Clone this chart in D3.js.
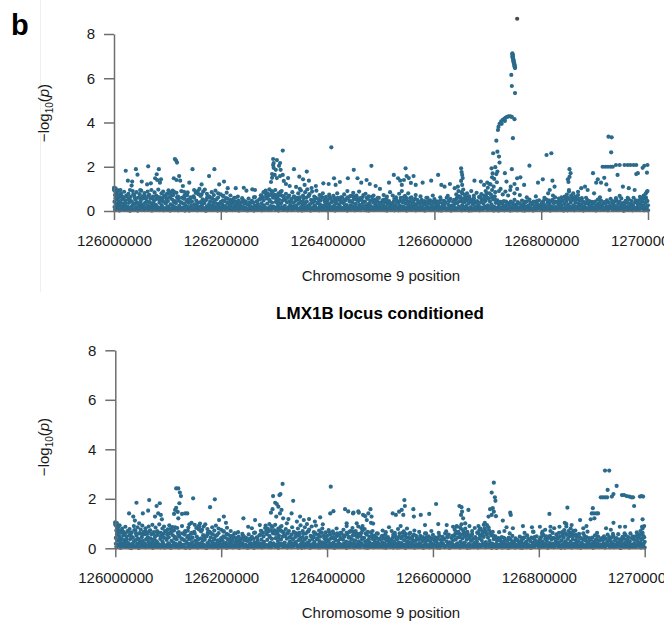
<!DOCTYPE html>
<html>
<head>
<meta charset="utf-8">
<script src="https://cdn.jsdelivr.net/npm/d3@7"></script>
<style>
  body { margin: 0; background: #fff; }
  svg { display: block; font-family: "Liberation Sans", Arial, Helvetica, sans-serif; }
</style>
</head>
<body>
<svg id="chart" width="664" height="624"></svg>
<script>
// Region shown on both panels (bp); SNP positions below are kb offsets from regionStart
const regionStart = 126000000;
const regionEnd = 127000000;
const xTicks = [126000000, 126200000, 126400000, 126600000, 126800000, 127000000];
const yTicks = [0, 2, 4, 6, 8];
const xTitle = "Chromosome 9 position";
const condTitle = "LMX1B locus conditioned";

// Dense low band near zero, [kb, -log10 p] (can't be told apart by eye between runs, so shared)
const bandSnps = [
  [0,.95],[1,.42],[1,.18],[2,.72],[3,.08],[4,.55],[5,.31],[6,.88],[7,.14],[8,.46],[9,.62],[10,.25],[11,.05],[12,.38],[13,.71],[14,.19],[15,.52],[16,.11],[17,.33],[18,.6],[19,.07],
  [20,.29],[21,.48],[22,.12],[24,.66],[25,.21],[26,.04],[28,.37],[29,.55],[31,.16],[32,.43],[34,.09],[35,.27],[36,.74],[38,.33],[39,.06],
  [40,.51],[41,.18],[43,.39],[44,.02],[46,.24],[47,.61],[49,.13],[50,.45],[52,.3],[53,.07],[55,.57],[56,.2],[58,.36],
  [60,.1],[61,.44],[63,.26],[64,.68],[66,.15],[67,.4],[69,.05],[70,.32],[72,.59],[73,.19],[75,.47],[76,.08],[78,.28],[79,.53],
  [80,.22],[82,.63],[83,.11],[85,.38],[86,.04],[88,.5],[89,.27],[91,.16],[92,.42],[94,.7],[95,.09],[97,.34],[98,.56],
  [100,.2],[101,.45],[103,.13],[104,.78],[106,.3],[107,.06],[109,.52],[110,.24],[112,.41],[113,.85],[115,.17],[116,.36],[118,.62],[119,.1],
  [121,.48],[122,.23],[124,.07],[125,.39],[127,.6],[128,.14],[130,.33],[131,.55],[133,.02],[134,.27],[136,.44],[137,.71],[139,.18],
  [140,.37],[142,.09],[143,.58],[145,.25],[146,.43],[148,.12],[149,.66],[151,.3],[152,.05],[154,.47],[155,.2],[157,.38],[158,.76],
  [160,.15],[162,.4],[163,.06],[165,.29],[166,.53],[168,.11],[169,.35],[171,.02],[172,.48],[174,.21],[175,.64],[177,.08],[178,.31],
  [180,.44],[181,.13],[183,.26],[184,.57],[186,.04],[187,.36],[189,.19],[190,.5],[192,.1],[193,.32],[195,.61],[196,.23],[198,.07],
  [200,.41],[201,.16],[203,.3],[204,.68],[206,.09],[207,.45],[209,.22],[210,.03],[212,.37],[213,.55],[215,.14],[216,.28],[218,.49],
  [220,.12],[221,.34],[223,.05],[224,.43],[226,.25],[227,.6],[229,.1],[230,.31],[232,.18],[233,.47],[235,.07],[236,.27],[238,.39],
  [240,.2],[241,.52],[243,.08],[244,.33],[246,.15],[247,.42],[249,.03],[250,.29],[252,.56],[253,.11],[255,.36],[256,.21],[258,.46],
  [260,.06],[261,.38],[263,.24],[264,.63],[266,.13],[267,.44],[269,.3],[270,.05],[272,.52],[273,.19],[275,.71],[276,.35],[278,.09],
  [280,.48],[281,.26],[283,.82],[284,.12],[286,.57],[287,.34],[289,.68],[290,.04],[292,.45],[293,.22],[295,.9],[296,.38],[298,.6],
  [300,.15],[301,.73],[303,.41],[304,.08],[306,.64],[307,.29],[309,.52],[310,.18],[312,.86],[313,.35],[315,.1],[316,.47],[318,.66],
  [320,.23],[321,.5],[323,.07],[324,.39],[326,.62],[327,.16],[329,.44],[330,.28],[332,.04],[333,.55],[335,.2],[336,.37],[338,.12],
  [340,.46],[341,.25],[343,.6],[344,.09],[346,.33],[347,.51],[349,.14],[350,.4],[352,.02],[353,.27],[355,.58],[356,.19],[358,.35],
  [360,.08],[361,.43],[363,.22],[364,.67],[366,.13],[367,.31],[369,.5],[370,.05],[372,.38],[373,.17],[375,.45],[376,.26],[378,.6],
  [380,.11],[381,.36],[383,.54],[384,.03],[386,.29],[387,.47],[389,.15],[390,.62],[392,.24],[393,.08],[395,.41],[396,.19],[398,.33],
  [400,.5],[401,.1],[403,.27],[404,.65],[406,.16],[407,.39],[409,.06],[410,.44],[412,.23],[413,.58],[415,.12],[416,.34],[418,.49],
  [420,.07],[421,.3],[423,.52],[424,.18],[426,.41],[427,.62],[429,.09],[430,.35],[432,.2],[433,.47],[435,.04],[436,.27],[438,.56],
  [440,.14],[441,.43],[443,.25],[444,.69],[446,.1],[447,.37],[449,.53],[450,.21],[452,.05],[453,.32],[455,.6],[456,.17],[458,.45],
  [460,.28],[461,.08],[463,.5],[464,.19],[466,.36],[467,.72],[469,.12],[470,.42],[472,.26],[473,.03],[475,.55],[476,.31],[478,.15],
  [480,.47],[481,.22],[483,.64],[484,.09],[486,.38],[487,.18],[489,.51],[490,.3],[492,.06],[493,.43],[495,.24],[496,.59],[498,.13],
  [500,.36],[501,.11],[503,.48],[504,.25],[506,.04],[507,.4],[509,.2],[510,.57],[512,.32],[513,.09],[515,.45],[516,.16],[518,.28],
  [520,.05],[521,.34],[523,.19],[524,.42],[526,.1],[527,.27],[529,.5],[530,.14],[532,.37],[533,.03],[535,.24],[536,.46],[538,.12],
  [540,.4],[541,.21],[543,.63],[544,.08],[546,.33],[547,.52],[549,.17],[550,.44],[552,.28],[553,.06],[555,.58],[556,.23],[558,.39],
  [560,.1],[561,.47],[563,.26],[564,.55],[566,.04],[567,.31],[569,.16],[570,.41],[572,.07],[573,.35],[575,.2],[576,.5],[578,.13],
  [580,.29],[581,.45],[583,.09],[584,.37],[586,.22],[587,.6],[589,.12],[590,.33],[592,.48],[593,.05],[595,.26],[596,.41],[598,.18],
  [600,.54],[601,.11],[603,.3],[604,.44],[606,.07],[607,.25],[609,.38],[610,.15],[612,.5],[613,.02],[615,.34],[616,.21],[618,.46],
  [620,.13],[621,.39],[623,.6],[624,.08],[626,.28],[627,.47],[629,.17],[630,.55],[632,.24],[633,.04],[635,.42],[636,.19],[638,.32],
  [640,.5],[641,.1],[643,.36],[644,.66],[646,.2],[647,.44],[649,.06],[650,.58],[652,.27],[653,.79],[655,.14],[656,.4],[658,.62],
  [660,.23],[661,.48],[663,.09],[664,.35],[666,.57],[667,.16],[669,.42],[670,.03],[672,.3],[673,.51],[675,.12],[676,.38],[678,.21],
  [680,.45],[681,.07],[683,.27],[684,.62],[686,.15],[687,.4],[689,.53],[690,.1],[692,.33],[693,.7],[695,.2],[696,.46],[698,.81],
  [700,.25],[701,.58],[703,.12],[704,.43],[706,.74],[707,.3],[709,.06],[710,.52],[712,.19],[713,.66],[715,.37],[716,.09],[718,.48],
  [720,.02],[721,.29],[723,.14],[724,.41],[726,.07],[727,.33],[729,.2],[730,.45],[732,.1],[733,.26],[735,.05],[736,.38],[738,.16],
  [740,.3],[741,.08],[743,.42],[744,.18],[746,.04],[747,.35],[749,.22],[750,.5],[752,.11],[753,.28],[755,.03],[756,.4],[758,.15],
  [760,.33],[761,.06],[763,.24],[764,.47],[766,.12],[767,.3],[769,.02],[770,.38],[772,.19],[773,.44],[775,.09],[776,.26],[778,.52],
  [780,.14],[781,.36],[783,.05],[784,.29],[786,.43],[787,.1],[789,.22],[790,.4],[792,.07],[793,.31],[795,.17],[796,.48],[798,.25],
  [800,.04],[801,.34],[803,.2],[804,.45],[806,.11],[807,.27],[809,.53],[810,.08],[812,.38],[813,.16],[815,.3],[816,.05],[818,.42],
  [820,.21],[821,.5],[823,.1],[824,.35],[826,.62],[827,.18],[829,.41],[830,.06],[832,.28],[833,.56],[835,.13],[836,.39],[838,.24],
  [840,.47],[841,.09],[843,.32],[844,.65],[846,.17],[847,.43],[849,.03],[850,.28],[852,.54],[853,.2],[855,.38],[856,.11],[858,.49],
  [860,.26],[861,.6],[863,.08],[864,.37],[866,.19],[867,.51],[869,.12],[870,.33],[872,.46],[873,.04],[875,.29],[876,.58],[878,.15],
  [880,.4],[881,.22],[883,.07],[884,.35],[886,.5],[887,.13],[889,.3],[890,.45],[892,.05],[893,.26],[895,.41],[896,.1],[898,.34],
  [900,.18],[901,.43],[903,.03],[904,.27],[906,.52],[907,.12],[909,.36],[910,.21],[912,.47],[913,.08],[915,.31],[916,.15],[918,.4],
  [920,.06],[921,.33],[923,.48],[924,.17],[926,.39],[927,.09],[929,.26],[930,.55],[932,.13],[933,.37],[935,.04],[936,.29],[938,.44],
  [940,.2],[941,.5],[943,.11],[944,.32],[946,.06],[947,.41],[949,.24],[950,.57],[952,.15],[953,.36],[955,.02],[956,.28],[958,.46],
  [960,.1],[961,.38],[963,.22],[964,.53],[966,.07],[967,.31],[969,.45],[970,.16],[972,.27],[973,.6],[975,.12],[976,.4],[978,.05],
  [980,.34],[981,.19],[983,.48],[984,.08],[986,.3],[987,.55],[989,.14],[990,.42],[992,.25],[993,.03],[995,.37],[996,.62],[998,.18],[999,.45],[1000,.26]
];

// Very low SNPs that make the solid floor of the band (shared)
const floorSnps = [
  [2,.05],[6,.15],[10,.02],[14,.1],[18,.2],[23,.06],[27,.14],[30,.01],[33,.18],[37,.08],[42,.12],[45,.03],[48,.2],[51,.09],[54,.16],[57,.04],
  [62,.13],[65,.07],[68,.19],[71,.02],[74,.11],[77,.17],[81,.05],[84,.14],[87,.09],[90,.21],[93,.03],[96,.12],[99,.07],[102,.16],[105,.02],
  [108,.1],[111,.19],[114,.06],[117,.13],[120,.03],[123,.18],[126,.08],[129,.14],[132,.04],[135,.2],[138,.1],[141,.02],[144,.15],[147,.07],
  [150,.12],[153,.18],[156,.03],[159,.1],[161,.2],[164,.05],[167,.14],[170,.09],[173,.02],[176,.17],[179,.11],[182,.04],[185,.19],[188,.08],
  [191,.13],[194,.02],[197,.16],[199,.1],[202,.06],[205,.18],[208,.12],[211,.03],[214,.15],[217,.08],[219,.2],[222,.04],[225,.13],[228,.09],
  [231,.17],[234,.02],[237,.11],[239,.19],[242,.06],[245,.14],[248,.1],[251,.03],[254,.17],[257,.08],[259,.13],[262,.02],[265,.19],[268,.07],
  [271,.15],[274,.11],[277,.03],[279,.2],[282,.06],[285,.13],[288,.09],[291,.17],[294,.04],[297,.12],[299,.2],[302,.07],[305,.15],[308,.02],
  [311,.11],[314,.18],[317,.06],[319,.14],[322,.09],[325,.03],[328,.17],[331,.12],[334,.05],[337,.19],[339,.1],[342,.15],[345,.03],[348,.08],
  [351,.18],[354,.12],[357,.04],[359,.16],[362,.09],[365,.2],[368,.02],[371,.13],[374,.07],[377,.17],[379,.05],[382,.11],[385,.19],[388,.04],
  [391,.14],[394,.08],[397,.2],[399,.03],[402,.12],[405,.06],[408,.17],[411,.1],[414,.02],[417,.15],[419,.08],[422,.19],[425,.05],[428,.13],
  [431,.09],[434,.17],[437,.02],[439,.11],[442,.06],[445,.15],[448,.19],[451,.03],[454,.12],[457,.08],[459,.16],[462,.04],[465,.2],[468,.1],
  [471,.06],[474,.14],[477,.02],[479,.18],[482,.07],[485,.12],[488,.04],[491,.16],[494,.09],[497,.2],[499,.05],[502,.13],[505,.08],[508,.17],
  [511,.02],[514,.11],[517,.19],[519,.06],[522,.14],[525,.03],[528,.09],[531,.17],[534,.11],[537,.04],[539,.19],[542,.07],[545,.13],[548,.02],
  [551,.16],[554,.1],[557,.05],[559,.18],[562,.12],[565,.03],[568,.15],[571,.08],[574,.19],[577,.06],[579,.11],[582,.02],[585,.16],[588,.09],
  [591,.13],[594,.04],[597,.18],[599,.07],[602,.14],[605,.1],[608,.03],[611,.17],[614,.06],[617,.12],[619,.19],[622,.04],[625,.1],[628,.15],
  [631,.02],[634,.18],[637,.08],[639,.13],[642,.05],[645,.16],[648,.11],[651,.03],[654,.19],[657,.07],[659,.14],[662,.1],[665,.02],[668,.17],
  [671,.08],[674,.13],[677,.05],[679,.2],[682,.11],[685,.03],[688,.15],[691,.07],[694,.18],[697,.12],[699,.04],[702,.16],[705,.09],[708,.19],
  [711,.02],[714,.13],[717,.07],[719,.17],[722,.05],[725,.11],[728,.15],[731,.03],[734,.19],[737,.09],[739,.13],[742,.02],[745,.17],[748,.07],
  [751,.12],[754,.18],[757,.05],[759,.1],[762,.15],[765,.03],[768,.19],[771,.08],[774,.12],[777,.04],[779,.16],[782,.1],[785,.02],[788,.17],
  [791,.06],[794,.13],[797,.19],[799,.09],[802,.03],[805,.15],[808,.07],[811,.18],[814,.12],[817,.02],[819,.14],[822,.08],[825,.17],[828,.04],
  [831,.11],[834,.19],[837,.06],[839,.13],[842,.02],[845,.16],[848,.1],[851,.05],[854,.18],[857,.08],[859,.13],[862,.03],[865,.15],[868,.09],
  [871,.19],[874,.06],[877,.12],[879,.02],[882,.17],[885,.1],[888,.05],[891,.14],[894,.19],[897,.07],[899,.12],[902,.03],[905,.16],[908,.09],
  [911,.18],[914,.05],[917,.13],[919,.08],[922,.2],[925,.03],[928,.12],[931,.16],[934,.07],[937,.19],[939,.1],[942,.04],[945,.14],[948,.09],
  [951,.18],[954,.02],[957,.12],[959,.16],[962,.06],[965,.19],[968,.1],[971,.03],[974,.14],[977,.08],[979,.17],[982,.05],[985,.12],[988,.19],
  [991,.07],[994,.14],[997,.1],[1000,.03]
];

// Upper part of the band (shared)
const upperBandSnps = [
  [3,.58],[9,.4],[15,.66],[21,.35],[27,.52],[33,.44],[39,.6],[45,.33],[51,.55],[57,.68],[62,.42],[68,.57],[74,.36],[80,.64],[86,.48],
  [91,.58],[97,.4],[103,.62],[108,.7],[114,.45],[120,.55],[126,.38],[132,.66],[138,.5],[144,.42],[150,.6],[156,.35],[162,.68],[168,.47],
  [174,.56],[180,.62],[186,.4],[192,.53],[198,.34],[204,.48],[210,.58],[216,.36],[222,.5],[228,.41],[234,.33],[244,.45],[254,.38],
  [268,.42],[274,.55],[279,.62],[285,.7],[291,.5],[297,.65],[303,.58],[308,.44],[314,.7],[319,.52],[325,.6],[331,.45],[337,.66],
  [342,.5],[348,.62],[354,.44],[360,.6],[365,.7],[371,.48],[377,.58],[382,.4],[388,.64],[394,.5],[400,.36],[406,.55],[412,.42],
  [419,.6],[425,.38],[431,.52],[437,.62],[443,.45],[449,.66],[455,.5],[461,.58],[467,.42],[473,.6],[479,.36],[485,.52],[491,.45],
  [497,.38],[505,.5],[511,.42],[519,.35],[525,.55],[531,.4],[537,.6],[542,.48],[548,.58],[554,.42],[561,.36],[568,.5],[577,.4],
  [588,.45],[599,.38],[608,.42],[619,.35],[628,.45],[637,.5],[642,.58],[646,.62],[651,.45],[656,.55],[662,.62],[668,.48],[674,.58],
  [680,.4],[686,.62],[691,.5],[697,.66],[702,.55],[708,.62],[714,.5],[719,.4],[725,.35],[734,.42],[745,.38],[757,.35],[768,.42],
  [780,.38],[792,.45],[803,.4],[814,.48],[825,.42],[835,.45],[845,.55],[850,.6],[858,.62],[863,.5],[870,.55],[877,.45],[888,.4],
  [897,.38],[908,.35],[920,.4],[933,.45],[945,.38],[958,.42],[968,.35],[977,.48],[986,.45],[991,.55],[994,.6],[997,.5]
];

// Ragged upper edge of the band, also shared
const midSnps = [
  [0,1.05],[1,.98],[2,.9],[3,1.02],[4,.82],[6,.74],[8,.93],[10,.68],[13,.8],[16,.62],[19,.87],[23,.7],[27,.78],[31,.64],[35,.9],[38,.72],
  [42,.85],[45,.6],[48,.76],[51,.92],[54,.66],[57,.81],[60,.58],[63,.88],[66,.73],[70,.95],[73,.65],[76,.84],[79,.7],[83,.97],[86,.62],
  [89,.8],[92,.88],[96,.68],[99,.77],[102,.93],[105,.6],[108,.86],[111,.72],[117,.82],[120,.65],[126,.9],[132,.7],[138,.84],[144,.62],
  [150,.95],[153,.82],[157,.9],[160,1.0],[164,.75],[167,.88],[170,.97],[174,.78],[178,.66],[183,.85],[187,.72],[190,.92],[195,.8],
  [200,.75],[205,.68],[211,.83],[218,.7],[225,.6],[232,.65],[240,.58],[262,.62],[276,.7],[284,.92],[288,.8],[291,.98],[294,.74],
  [297,.86],[302,.95],[305,.68],[308,.8],[311,.72],[314,.9],[317,.64],[322,.78],[328,.7],[334,.85],[339,.62],[345,.8],[350,.93],
  [354,.7],[358,.85],[362,.98],[366,.76],[371,.88],[375,.65],[379,.92],[385,.72],[391,.8],[397,.64],[403,.74],[411,.68],[418,.8],
  [425,.62],[431,.75],[437,.9],[442,.66],[448,.82],[454,.7],[459,.88],[465,.62],[471,.78],[477,.66],[486,.7],[494,.6],[505,.72],
  [511,.65],[517,.85],[522,.7],[528,.62],[534,.78],[539,.9],[545,.68],[551,.8],[557,.62],[565,.72],[574,.66],[585,.6],[597,.7],
  [611,.62],[625,.68],[641,.75],[645,.9],[648,.66],[651,.85],[654,.97],[657,.72],[661,.8],[665,.66],[669,.9],[674,.7],[679,.82],
  [684,.64],[688,.76],[694,.6],[773,.62],[790,.66],[806,.6],[822,.7],[838,.62],[848,.74],[852,.88],[856,.7],[860,.8],[864,.65],
  [869,.72],[884,.6],[910,.62],[940,.58],[962,.6],[985,.64],[992,.7],[996,.8],[999,.9]
];

// Unconditioned run: individual SNPs above the band
const topHits = [
  [12,.95],[22,1.82],[26,1.37],[30,.95],[33,1.15],[34,1.33],[41,1.89],[44,1.64],[49,.95],[52,1.33],[62,1.2],[64,2.02],[69,1.25],
  [77,1.48],[80,1.66],[81,1.4],[84,1.89],[86,1.28],[88,1.43],
  [110,.92],[112,1.48],[114,2.35],[116,2.29],[117,1.4],[118,2.19],[122,1.58],[124,1.37],[129,1.13],[131,.87],[135,.8],[141,1.28],
  [147,1.89],[164,1.2],[178,1.58],[188,1.89],[197,1.2],[206,1.33],[213,1.03],[228,1.03],[243,1.05],[248,.92],[259,.98],[264,.95],[280,.85],
  [294,1.31],[296,1.5],[296,1.67],[298,2.35],[298,2.08],[299,1.95],[299,2.17],[301,1.63],[303,1.86],[305,2.3],[305,1.49],[309,2.04],
  [311,2.17],[311,1.58],[312,1.86],[316,2.73],[316,1.63],[318,1.36],[322,1.22],[326,1.49],[329,1.13],[337,1.89],[341,1.09],[347,1.55],
  [348,1.0],[354,1.43],[357,1.18],[361,1.78],[365,1.37],[370,1.04],[378,1.13],[392,1.25],[402,1.22],[407,2.88],[412,1.48],[415,1.18],
  [423,1.31],[438,1.48],[449,1.86],[456,1.48],[463,1.28],[473,1.4],[479,1.22],[482,2.04],[490,1.13],[498,1.0],[515,1.28],[524,1.63],
  [532,1.48],[536,1.37],[539,1.18],[543,1.4],[546,1.93],[548,1.58],[552,1.49],[556,1.27],[561,1.58],[565,1.18],[578,1.28],[594,1.37],
  [607,1.63],[613,1.18],[619,1.1],[629,1.22],[638,1.03],[644,1.1],
  [650,1.93],[651,1.76],[652,1.63],[653,1.49],[650,1.36],[652,1.18],[675,1.37],[687,1.33],[693,1.18],[699,1.28],[703,1.22],
  [696,.9],[700,1.05],[703,.8],[705,1.2],[708,.95],[709,1.7],[711,1.1],[712,1.45],[714,.85],[717,1.3],[721,.9],[724,1.0],[728,.75],
  [733,.88],[738,.7],[742,.95],[750,.8],[755,1.0],[760,.72],
  [707,1.93],[708,1.52],[710,2.61],[714,1.98],[716,3.18],[716,1.67],[718,2.68],[718,1.78],[721,2.46],[722,2.19],
  [719,3.66],[720,3.8],[722,3.94],[725,4.05],[726,3.94],[728,4.12],[731,4.16],[732,4.07],[733,4.21],[736,4.25],[739,4.28],[742,4.28],
  [745,4.25],[750,4.15],[747,3.29],
  [746,7.13],[746,7.08],[747,7.03],[746,6.98],[747,6.94],[747,6.9],[748,6.85],[748,6.8],[748,6.76],[749,6.72],[749,6.67],[750,6.62],
  [750,6.58],[750,6.53],[751,6.49],[751,6.46],[744,6.15],[745,5.65],[751,5.33],
  [732,1.71],[735,1.33],[743,1.1],[745,1.89],[750,1.22],[755,1.48],[761,1.52],[768,1.18],[778,2.05],[794,1.28],[803,1.43],[810,2.53],
  [813,.8],[816,.95],[819,2.61],[821,1.37],[825,1.1],[850,1.43],[851,1.31],[852,.95],[853,1.89],[853,1.54],[855,1.71],[869,.87],
  [875,1.03],[882,1.1],[887,.95],[897,1.71],[899,.8],[903,1.28],[906,1.43],[912,1.28],
  [915,2.0],[918,1.5],[920,2.0],[922,1.2],[925,2.0],[926,3.36],[928,.95],[930,2.0],[931,2.65],[932,3.33],[934,2.0],[940,2.08],
  [943,1.63],[947,2.08],[947,.68],[953,1.1],[956,2.08],[962,2.08],[964,1.03],[967,2.08],[973,2.08],[975,.95],[978,2.08],[978,1.67],
  [981,1.71],[990,1.95],[993,2.04],[998,1.73],[998,.87],[999,2.08]
];

// Lead SNP of the LMX1B locus (drawn darker)
const leadSnp = [[755, 8.69]];

// Run conditioned on the LMX1B locus: individual SNPs above the band
const condHits = [
  [0,1.03],[26,1.41],[34,1.28],[37,1.12],[40,1.84],[45,1.01],[52,1.41],[62,1.52],[64,1.95],[75,1.28],[78,1.71],[81,1.41],[84,1.82],
  [86,1.35],[88,1.17],
  [111,1.39],[113,1.55],[115,2.42],[115,1.63],[118,1.47],[119,2.42],[119,1.21],[121,1.82],[122,2.25],[124,2.11],[126,1.39],[132,1.41],
  [136,1.41],[140,.97],[144,1.03],[147,2.02],[159,.87],[179,1.66],[188,1.98],[196,1.14],[205,1.28],[209,1.03],[242,1.21],[251,.87],
  [258,.81],[264,1.14],[273,.94],
  [294,1.44],[297,1.58],[298,2.11],[302,1.84],[304,1.28],[305,1.79],[308,1.68],[310,2.15],[311,1.41],[312,2.19],[314,1.55],[316,2.6],
  [317,1.21],[324,1.01],[327,1.18],[333,1.41],[336,1.92],[343,1.08],[349,1.28],[356,1.14],[366,1.18],[377,1.08],[387,1.25],[392,.97],
  [406,1.41],[407,2.49],[412,1.5],[434,1.58],[437,1.01],[440,1.49],[449,1.41],[450,1.44],[456,1.01],[459,1.49],[460,1.44],[465,.81],
  [467,.9],[468,1.35],[472,1.3],[475,1.14],[478,1.41],[482,1.58],[483,1.03],[484,1.28],[487,1.0],
  [524,1.41],[530,1.35],[536,1.48],[541,1.55],[544,1.35],[546,1.95],[547,1.71],[563,1.58],[564,1.28],[577,1.35],[585,.94],[593,1.39],
  [606,1.79],[610,.98],[626,.94],[638,.87],[645,.87],[650,1.71],[653,1.35],[654,1.66],[655,1.48],[657,1.21],[661,1.01],[667,1.55],
  [686,.9],[690,.8],[696,.95],[698,1.03],[700,.7],[702,.94],[705,1.28],[705,.85],[708,1.58],[711,2.25],[711,1.35],[713,1.62],
  [715,2.65],[715,1.48],[717,2.06],[718,1.92],[719,1.3],[725,.65],[732,1.12],[735,.7],[739,.85],[745,.6],[746,1.44],[747,1.35],
  [751,.81],[770,.9],[787,.85],[789,.67],[802,.87],[807,.67],[812,.75],[820,1.39],[822,.87],[829,.81],[839,.87],[849,1.03],
  [852,.98],[854,1.64],[862,.94],[866,.71],[878,1.14],[884,.81],[890,.9],[892,.67],[898,1.17],[900,1.41],[902,1.62],[904,1.41],
  [905,1.21],[909,1.41],[912,1.41],
  [917,2.06],[921,2.06],[925,3.14],[925,2.06],[927,.81],[929,2.06],[930,2.36],[933,3.14],[936,.75],[938,2.09],[941,2.19],[941,1.03],
  [947,2.52],[953,.87],[957,2.15],[961,2.15],[963,.87],[966,2.11],[971,2.09],[975,2.06],[977,1.14],[978,2.06],[980,1.71],[991,2.09],
  [994,2.11],[995,.87],[996,1.17],[997,2.09]
];

const dotColor = "#2a6a8c";
const leadColor = "#4a4a4a";
const axisColor = "#6e6e6e";
const textColor = "#1a1a1a";

const svg = d3.select("#chart");

// panel letter
svg.append("text")
    .attr("x", 11)
    .attr("y", 35)
    .attr("font-size", 29)
    .attr("font-weight", "bold")
    .attr("fill", "#000")
    .text("b");

// faint border of the upper figure panel
svg.append("line")
    .attr("x1", 40.5).attr("x2", 40.5)
    .attr("y1", 0).attr("y2", 292)
    .attr("stroke", "#efefef")
    .attr("stroke-width", 1);

function drawPanel(cfg, layers) {
    const x = d3.scaleLinear()
        .domain([regionStart, regionEnd])
        .range([cfg.left, cfg.right]);
    const y = d3.scaleLinear()
        .domain([0, 8])
        .range([cfg.bottom, cfg.top]);

    const g = svg.append("g");

    if (cfg.title) {
        g.append("text")
            .attr("x", 380)
            .attr("y", cfg.titleY)
            .attr("text-anchor", "middle")
            .attr("font-size", 17)
            .attr("font-weight", "bold")
            .attr("fill", "#000")
            .text(cfg.title);
    }

    // points
    layers.forEach(layer => {
        g.append("g")
            .selectAll("circle")
            .data(layer.data)
            .join("circle")
            .attr("cx", d => x(regionStart + d[0] * 1000))
            .attr("cy", d => y(d[1]))
            .attr("r", 2.1)
            .attr("fill", layer.color);
    });

    // axes
    const xAxis = g.append("g")
        .attr("transform", `translate(0,${cfg.bottom})`)
        .call(d3.axisBottom(x)
            .tickValues(xTicks)
            .tickFormat(d3.format("d"))
            .tickSize(9)
            .tickSizeOuter(0)
            .tickPadding(15));

    const yAxis = g.append("g")
        .attr("transform", `translate(${cfg.left},0)`)
        .call(d3.axisLeft(y)
            .tickValues(yTicks)
            .tickSize(10)
            .tickSizeOuter(0)
            .tickPadding(9));

    [xAxis, yAxis].forEach(ax => {
        ax.attr("font-family", null).attr("font-size", 15);
        ax.select(".domain").attr("stroke", axisColor).attr("stroke-width", 1.5);
        ax.selectAll(".tick line").attr("stroke", axisColor).attr("stroke-width", 1.5);
        ax.selectAll(".tick text").attr("fill", textColor);
    });

    g.append("text")
        .attr("x", 381)
        .attr("y", cfg.bottom + 70)
        .attr("text-anchor", "middle")
        .attr("font-size", 15)
        .attr("fill", textColor)
        .text(xTitle);

    // -log10(p) label
    const yl = g.append("text")
        .attr("transform", `translate(49,${cfg.labelY}) rotate(-90)`)
        .attr("text-anchor", "middle")
        .attr("font-size", 15)
        .attr("fill", textColor);
    yl.append("tspan").text("\u2212log");
    yl.append("tspan").attr("font-size", 10).attr("dy", 4).text("10");
    yl.append("tspan").attr("dy", -4).text("(");
    yl.append("tspan").attr("font-style", "italic").text("p");
    yl.append("tspan").text(")");
}

drawPanel(
    { left: 114, right: 648, top: 34, bottom: 211, labelY: 113 },
    [
        { data: floorSnps, color: dotColor },
        { data: bandSnps, color: dotColor },
        { data: upperBandSnps, color: dotColor },
        { data: midSnps, color: dotColor },
        { data: topHits, color: dotColor },
        { data: leadSnp, color: leadColor }
    ]
);

drawPanel(
    { left: 115.3, right: 644.7, top: 350.3, bottom: 548.3, labelY: 447, title: condTitle, titleY: 319 },
    [
        { data: floorSnps, color: dotColor },
        { data: bandSnps, color: dotColor },
        { data: upperBandSnps, color: dotColor },
        { data: midSnps, color: dotColor },
        { data: condHits, color: dotColor }
    ]
);
</script>
</body>
</html>
